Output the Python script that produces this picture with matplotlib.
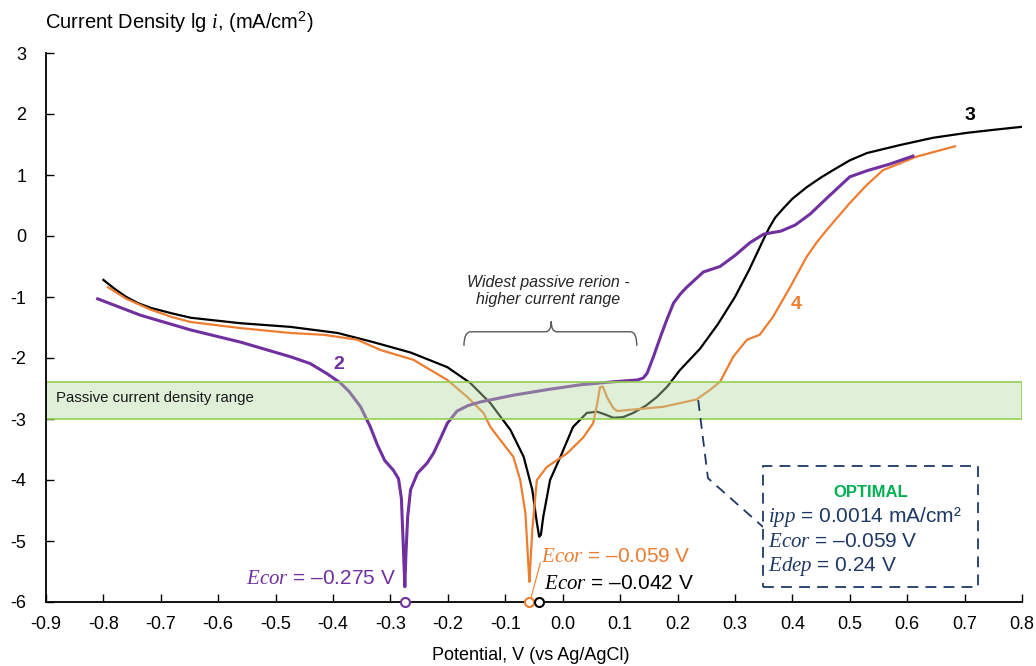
import matplotlib
matplotlib.use("Agg")
import matplotlib.pyplot as plt
from matplotlib.patches import Rectangle, PathPatch
from matplotlib.colors import to_rgba
from matplotlib.path import Path

plt.rcParams["font.family"] = ["Liberation Sans", "DejaVu Sans"]
plt.rcParams["mathtext.fontset"] = "custom"
plt.rcParams["mathtext.rm"] = "Liberation Sans"
plt.rcParams["mathtext.it"] = "Liberation Serif:italic"
plt.rcParams["mathtext.bf"] = "Liberation Sans:bold"
plt.rcParams["axes.unicode_minus"] = False

# curve 3 (black)
pot_3 = [-0.80, -0.78, -0.76, -0.74, -0.717, -0.68, -0.648, -0.60, -0.561, -0.474,
         -0.392, -0.33, -0.265, -0.201, -0.161, -0.126, -0.091, -0.068, -0.053, -0.045,
         -0.041, -0.038, -0.034, -0.022, -0.004, 0.018, 0.042, 0.06, 0.075, 0.088, 0.105,
         0.123, 0.145, 0.164, 0.182, 0.204, 0.239, 0.27, 0.30, 0.325, 0.35, 0.36, 0.37,
         0.384, 0.40, 0.425, 0.45, 0.471, 0.50, 0.53, 0.587, 0.645, 0.703, 0.75, 0.80]
lgi_3 = [-0.72, -0.87, -1.00, -1.10, -1.18, -1.27, -1.34, -1.39, -1.43, -1.49,
         -1.59, -1.74, -1.91, -2.15, -2.41, -2.74, -3.18, -3.62, -4.16, -4.70,
         -4.93, -4.90, -4.61, -4.00, -3.62, -3.13, -2.90, -2.88, -2.93, -2.98, -2.97,
         -2.90, -2.78, -2.64, -2.47, -2.20, -1.85, -1.45, -1.00, -0.55, -0.05, 0.14, 0.30,
         0.45, 0.61, 0.80, 0.96, 1.08, 1.24, 1.36, 1.49, 1.61, 1.69, 1.74, 1.79]

# curve 4 (orange)
pot_4 = [-0.792, -0.76, -0.717, -0.68, -0.648, -0.561, -0.474, -0.416, -0.358, -0.317,
         -0.26, -0.201, -0.166, -0.138, -0.126, -0.109, -0.086, -0.074, -0.065, -0.060,
         -0.058, -0.053, -0.045, -0.028, 0.008, 0.036, 0.053, 0.060, 0.065, 0.070, 0.077,
         0.088, 0.095, 0.117, 0.175, 0.233, 0.257, 0.274, 0.297, 0.321, 0.343, 0.366,
         0.396, 0.425, 0.442, 0.46, 0.50, 0.53, 0.558, 0.616, 0.683]
lgi_4 = [-0.84, -1.03, -1.21, -1.33, -1.41, -1.51, -1.59, -1.62, -1.70, -1.87,
         -2.03, -2.36, -2.64, -2.90, -3.13, -3.34, -3.62, -4.00, -4.54, -5.36,
         -5.67, -4.82, -4.00, -3.79, -3.56, -3.30, -3.07, -2.75, -2.48, -2.47, -2.64,
         -2.82, -2.87, -2.85, -2.80, -2.68, -2.52, -2.39, -1.98, -1.70, -1.62, -1.33,
         -0.84, -0.34, -0.11, 0.10, 0.54, 0.84, 1.08, 1.30, 1.47]

# curve 2 (purple)
pot_2 = [-0.81, -0.735, -0.648, -0.561, -0.474, -0.44, -0.41, -0.387, -0.372, -0.352,
         -0.335, -0.323, -0.31, -0.295, -0.286, -0.281, -0.278, -0.275, -0.273, -0.270,
         -0.265, -0.253, -0.236, -0.225, -0.212, -0.201, -0.184, -0.165, -0.143, -0.086,
         -0.028, 0.03, 0.088, 0.13, 0.14, 0.147, 0.158, 0.17, 0.181, 0.193, 0.205, 0.216,
         0.245, 0.274, 0.30, 0.326, 0.35, 0.38, 0.405, 0.431, 0.46, 0.50, 0.53, 0.57, 0.61]
lgi_2 = [-1.03, -1.30, -1.54, -1.74, -1.98, -2.09, -2.26, -2.41, -2.55, -2.80,
         -3.13, -3.42, -3.68, -3.84, -3.98, -4.30, -5.00, -5.75, -5.20, -4.60,
         -4.16, -3.89, -3.72, -3.56, -3.30, -3.07, -2.87, -2.78, -2.72, -2.61,
         -2.52, -2.44, -2.39, -2.36, -2.33, -2.25, -1.98, -1.66, -1.38, -1.10, -0.95, -0.84,
         -0.59, -0.50, -0.32, -0.11, 0.03, 0.08, 0.18, 0.36, 0.62, 0.97, 1.07, 1.18, 1.31]

ecor_values = [-0.275, -0.059, -0.042]
ecor_colors = ["#7030A0", "#ED7D31", "#000000"]
passive_band = (-3.0, -2.4)
x_ticks = [round(-0.9 + 0.1 * k, 1) for k in range(18)]
y_ticks = list(range(-6, 4))

PURPLE = "#7030A0"
ORANGE = "#ED7D31"
NAVY = "#1F3864"

fig = plt.figure(figsize=(10.36, 6.66), dpi=100)
ax = fig.add_axes([46 / 1036, 64 / 666, 976 / 1036, 549 / 666])

ax.plot(pot_3, lgi_3, color="black", lw=1.6, solid_joinstyle="round", zorder=3)
ax.plot(pot_4, lgi_4, color=ORANGE, lw=1.6, solid_joinstyle="round", zorder=3)
ax.plot(pot_2, lgi_2, color=PURPLE, lw=2.2, solid_joinstyle="round", zorder=3)

# passive band drawn over the curves
band = Rectangle((-0.9, passive_band[0]), 1.7, passive_band[1] - passive_band[0],
                 facecolor=to_rgba("#B6DAA0", 0.42), edgecolor="#92D050", lw=1.2, zorder=4)
ax.add_patch(band)
ax.text(-0.882, -2.66, "Passive current density range", fontsize=10.8, va="center",
        color="#1a1a1a", zorder=5)

# corrosion potentials on the axis
for v, c in zip(ecor_values, ecor_colors):
    ax.plot([v], [-6], marker="o", ms=6.5, mfc="white", mec=c, mew=1.5,
            clip_on=False, zorder=8)

ax.text(-0.291, -5.61, r"$Ecor$ = –0.275 V", color=PURPLE, fontsize=15,
        ha="right", va="center")
ax.text(-0.038, -5.26, r"$Ecor$ = –0.059 V", color=ORANGE, fontsize=15,
        ha="left", va="center")
ax.text(-0.032, -5.69, r"$Ecor$ = –0.042 V", color="black", fontsize=15,
        ha="left", va="center")
ax.plot([-0.039, -0.056], [-5.36, -5.96], color=ORANGE, lw=0.8)

# curve numbers
ax.text(-0.39, -2.11, "2", color=PURPLE, fontsize=14, fontweight="bold", ha="center", va="center")
ax.text(0.709, 1.98, "3", color="black", fontsize=14, fontweight="bold", ha="center", va="center")
ax.text(0.406, -1.13, "4", color=ORANGE, fontsize=14, fontweight="bold", ha="center", va="center")

# brace over the widest passive region
brace = Path([(-0.172, -1.80), (-0.172, -1.57), (-0.160, -1.57),
              (-0.030, -1.57), (-0.020, -1.57), (-0.020, -1.40),
              (-0.020, -1.57), (-0.010, -1.57),
              (0.118, -1.57), (0.129, -1.57), (0.129, -1.80)],
             [Path.MOVETO, Path.CURVE3, Path.CURVE3,
              Path.LINETO, Path.CURVE3, Path.CURVE3,
              Path.CURVE3, Path.CURVE3,
              Path.LINETO, Path.CURVE3, Path.CURVE3])
ax.add_patch(PathPatch(brace, facecolor="none", edgecolor="#595959", lw=1.0))
ax.text(-0.025, -0.90, "Widest passive rerion -\nhigher current range", fontsize=11.5,
        style="italic", ha="center", va="center", color="#262626", linespacing=1.15)

# optimal box
ax.plot([0.236, 0.253, 0.349], [-2.69, -3.97, -4.77], color=NAVY, lw=1.3,
        ls=(0, (6, 4)), zorder=5)
box = Rectangle((0.349, -5.75), 0.374, 1.98, facecolor="white", edgecolor=NAVY,
                lw=1.3, ls=(0, (6, 4)), zorder=5)
ax.add_patch(box)
ax.text(0.536, -4.21, "OPTIMAL", color="#00B050", fontsize=12, fontweight="bold",
        ha="center", va="center", zorder=6)
ax.text(0.358, -4.61, r"$ipp$ = 0.0014 mA/cm²", color=NAVY, fontsize=15,
        va="center", zorder=6)
ax.text(0.358, -5.01, r"$Ecor$ = –0.059 V", color=NAVY, fontsize=15,
        va="center", zorder=6)
ax.text(0.358, -5.41, r"$Edep$ = 0.24 V", color=NAVY, fontsize=15,
        va="center", zorder=6)

ax.set_xlim(-0.9, 0.8)
ax.set_ylim(-6, 3)
ax.set_xticks(x_ticks)
ax.set_xticklabels([f"{t:.1f}" for t in x_ticks])
ax.set_yticks(y_ticks)
ax.set_yticklabels([str(t) for t in y_ticks])
ax.tick_params(direction="in", length=6, width=1, labelsize=13, colors="black")
ax.tick_params(axis="x", pad=10)
ax.tick_params(axis="y", pad=14)
for s in ["top", "right"]:
    ax.spines[s].set_visible(False)
for s in ["left", "bottom"]:
    ax.spines[s].set_linewidth(1.3)
    ax.spines[s].set_zorder(7)

fig.text(45 / 1036, 1 - 22 / 666, r"Current Density lg $i$, (mA/cm$^2$)", fontsize=14.5,
         va="center", ha="left")
fig.text(531 / 1036, 1 - 655 / 666, "Potential, V (vs Ag/AgCl)", fontsize=13,
         va="center", ha="center")

fig.savefig("out.png", dpi=100)
